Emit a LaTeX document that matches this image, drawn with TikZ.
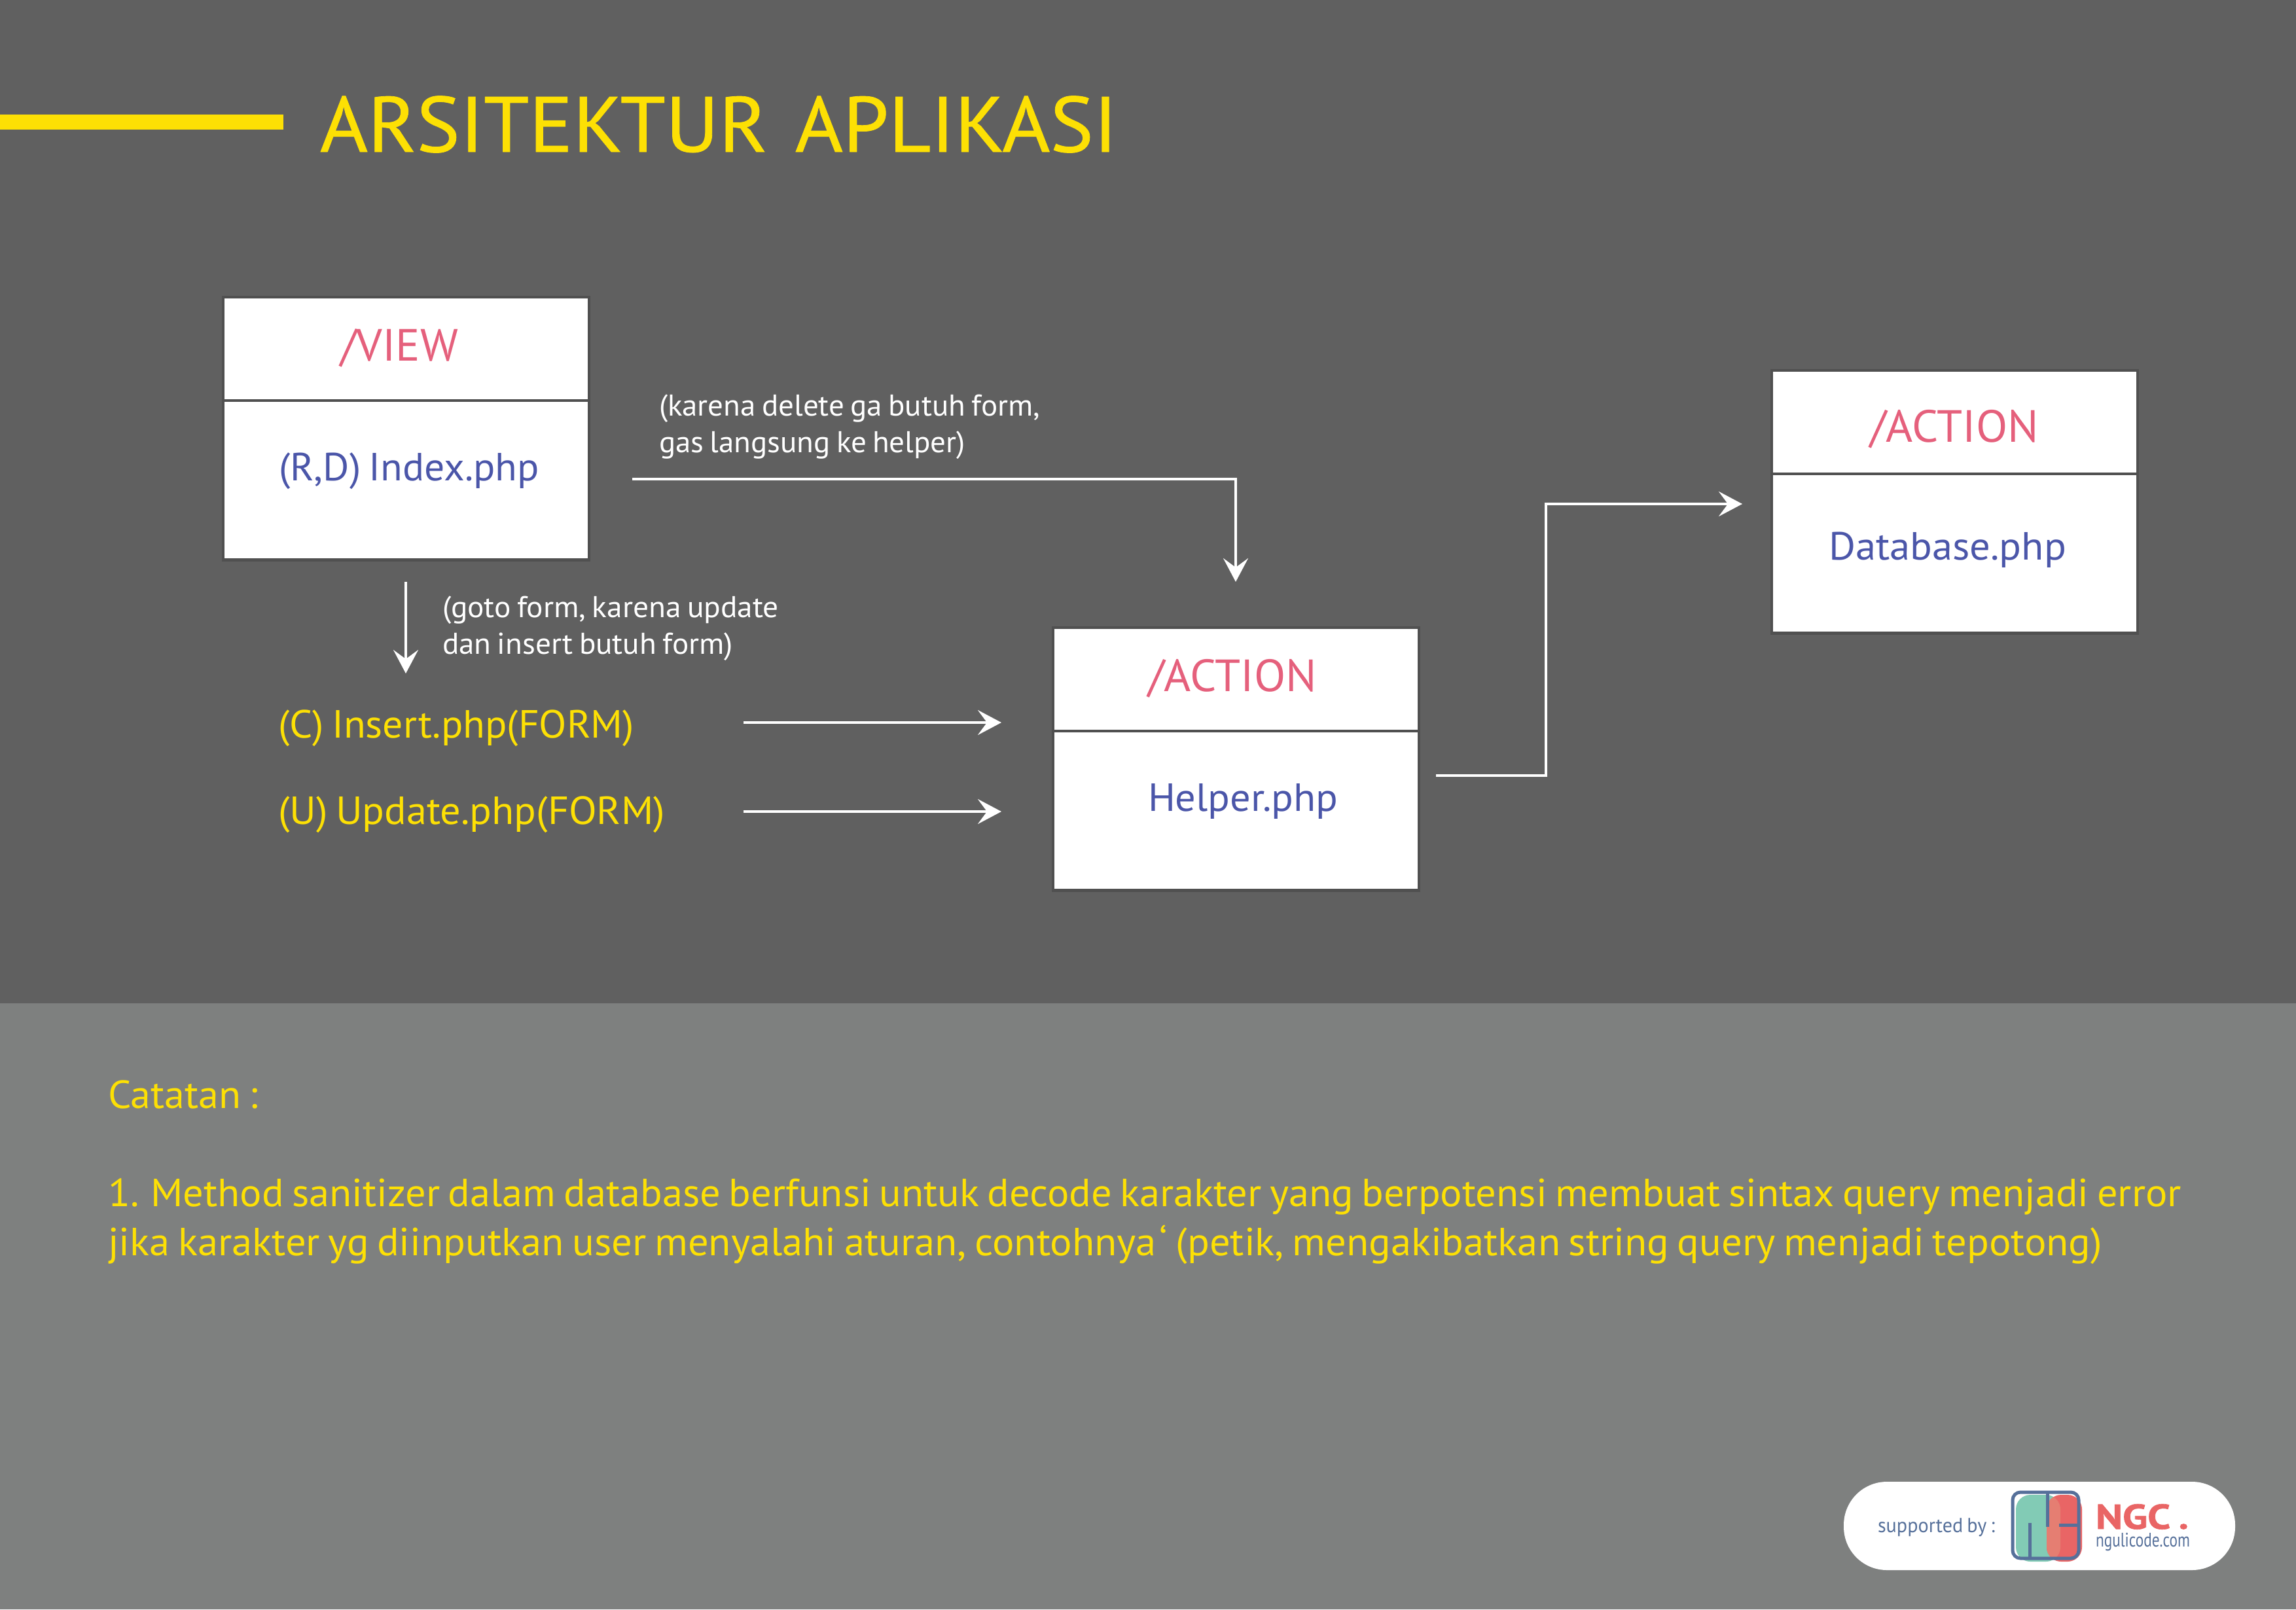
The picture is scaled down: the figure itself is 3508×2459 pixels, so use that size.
\documentclass[tikz,border=0pt]{standalone}
\usepackage{fontspec}
\usepackage{graphicx}
\setmainfont{PT Sans}
\newfontfamily\titlefont[FakeBold=0.7]{PT Sans}
\newfontfamily\logofont[FakeBold=1.2]{PT Sans Bold}
\usetikzlibrary{arrows.meta}
\definecolor{bgdark}{HTML}{606060}
\definecolor{bglow}{HTML}{7E807F}
\definecolor{edgegray}{HTML}{505050}
\definecolor{titleyellow}{HTML}{FDE004}
\definecolor{headred}{HTML}{E5607C}
\definecolor{bodyblue}{HTML}{4B56A9}
\definecolor{logoblue}{HTML}{56709A}
\definecolor{logored}{HTML}{E96565}
\definecolor{logogreen}{HTML}{82CBB5}
\definecolor{logomix}{HTML}{E57E72}
\newcommand{\fitw}[2]{\resizebox{#1pt}{\height}{\spaceskip=0.2em\relax #2}}
\tikzset{
  boxpart/.style={draw=edgegray,line width=2.2pt,fill=white,anchor=north west,minimum width=279.5pt,inner sep=0pt,outer sep=0pt},
  headpart/.style={boxpart,minimum height=79pt},
  bodypart/.style={boxpart,minimum height=121.75pt},
  txt/.style={inner sep=0pt,outer sep=0pt,anchor=base west},
  headtxt/.style={txt,text=headred,font=\fontsize{34.5}{34.5}\selectfont},
  bodytxt/.style={txt,text=bodyblue,font=\fontsize{30}{30}\selectfont},
  formtxt/.style={txt,text=titleyellow,font=\fontsize{30}{30}\selectfont},
  whitetxt/.style={txt,text=white,font=\fontsize{23}{23}\selectfont},
  notetxt/.style={txt,text=titleyellow,font=\fontsize{30}{30}\selectfont},
  flow/.style={draw=white,line width=2pt,-{Stealth[length=18pt,width=19pt,inset=7pt]}},
}
\begin{document}
\begin{tikzpicture}[x=0.5pt,y=-0.5pt]
\useasboundingbox (0,0) rectangle (3508,2459);
\fill[bgdark] (0,0) rectangle (3508,1533);
\fill[bglow] (0,1533) rectangle (3508,2459);
\fill[titleyellow] (0,175) rectangle (433,198);
\node[txt,text=titleyellow,font=\fontsize{60}{60}\titlefont] (title) at (489,232) {\fitw{609}{ARSITEKTUR\hspace{0.14em} APLIKASI}};
% boxes
\node[headpart] (viewh) at (341,454) {};
\node[bodypart] (viewb) at (341,612) {};
\node[headpart] (helph) at (1609,959) {};
\node[bodypart] (helpb) at (1609,1117) {};
\node[headpart] (dbh) at (2707,566) {};
\node[bodypart] (dbb) at (2707,724) {};
\node[headtxt] (viewt) at (520,551) {\fitw{90}{/VIEW}};
\node[bodytxt] (viewf) at (426,734) {\fitw{199}{(R,D) Index.php}};
\node[headtxt] (helpt) at (1754,1056) {\fitw{129}{/ACTION}};
\node[bodytxt] (helpf) at (1754,1239) {\fitw{145}{Helper.php}};
\node[headtxt] (dbt) at (2857,675) {\fitw{129}{/ACTION}};
\node[bodytxt] (dbf) at (2794,855) {\fitw{181.5}{Database.php}};
% labels
\node[whitetxt] (la1) at (1007,635) {\fitw{291}{(karena delete ga butuh form,}};
\node[whitetxt] (la2) at (1007,691) {\fitw{234}{gas langsung ke helper)}};
\node[whitetxt] (lb1) at (676,943) {\fitw{257}{(goto form, karena update}};
\node[whitetxt] (lb2) at (676,999) {\fitw{222}{dan insert butuh form)}};
\node[formtxt] (ins) at (425,1127) {\fitw{272}{(C) Insert.php(FORM)}};
\node[formtxt] (upd) at (425,1259) {\fitw{295.5}{(U) Update.php(FORM)}};
% connectors
\coordinate (a1) at (966,732);
\coordinate (a2) at (1888,889);
\coordinate (b1) at (620,889);
\coordinate (b2) at (620,1029);
\coordinate (c1) at (1136,1104);
\coordinate (c2) at (1530,1104);
\coordinate (d1) at (1136,1240);
\coordinate (d2) at (1530,1240);
\coordinate (e1) at (2194,1185);
\coordinate (e2) at (2662,770);
\draw[flow] (a1) -| (a2);
\draw[flow] (b1) -- (b2);
\draw[flow] (c1) -- (c2);
\draw[flow] (d1) -- (d2);
\draw[flow] (e1) -- (2362,1185) -- (2362,770) -- (e2);
% notes
\node[notetxt] (n0) at (165,1693) {\fitw{114.5}{Catatan :}};
\node[notetxt] (n1) at (165,1843) {\fitw{1584}{1. Method sanitizer dalam database berfunsi untuk decode karakter yang berpotensi membuat sintax query menjadi error}};
\node[notetxt] (n2) at (165,1918) {\fitw{1523.5}{jika karakter yg diinputkan user menyalahi aturan, contohnya\hspace{0.08em}‘ (petik, mengakibatkan string query menjadi tepotong)}};
% badge
\fill[white,rounded corners=33pt] (2817,2264) rectangle (3415,2399);
\node[txt,text=logoblue,font=\fontsize{15.5}{16}\selectfont] (sup) at (2869,2341) {\fitw{89.5}{supported by :}};
\fill[logogreen,rounded corners=11pt] (3080,2284) rectangle (3148,2386);
\fill[logored,rounded corners=11pt] (3127,2284) rectangle (3181,2386);
\begin{scope}
\clip[rounded corners=11pt] (3080,2284) rectangle (3148,2386);
\fill[logomix,rounded corners=11pt] (3127,2284) rectangle (3181,2386);
\end{scope}
\draw[logoblue,line width=2.5pt,rounded corners=6pt] (3075,2280) rectangle (3176,2381);
\draw[logoblue,line width=2.5pt] (3128,2280) -- (3128,2333);
\draw[logoblue,line width=2.5pt] (3101,2327) -- (3101,2381);
\draw[logoblue,line width=2.5pt] (3146,2330) -- (3176,2330);
\node[txt,text=logored,font=\fontsize{26.5}{26.5}\logofont] (ngc) at (3202,2336) {\fitw{71}{NGC .}};
\node[txt,text=logoblue,font=\fontsize{15}{15}\selectfont] (ngu) at (3202,2363) {\fitw{72}{ngulicode.com}};
\end{tikzpicture}
\end{document}
